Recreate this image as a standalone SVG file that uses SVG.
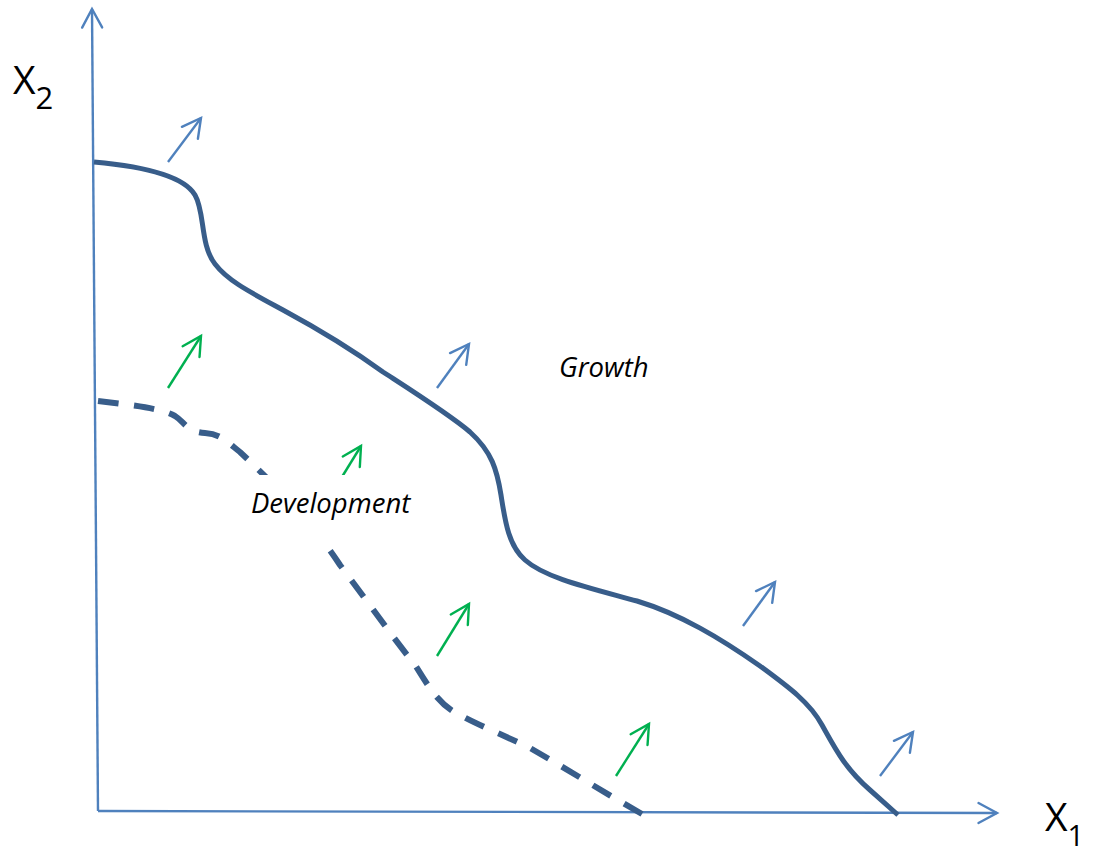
<svg xmlns="http://www.w3.org/2000/svg" width="1093" height="852" viewBox="0 0 1093 852">
  <style>
    .axis { fill: none; stroke: #4F81BD; stroke-width: 2.4; }
    .frontier { fill: none; stroke: #385D8A; stroke-width: 5; stroke-linecap: butt; }
    .frontier.dev { stroke-width: 6; stroke-dasharray: 21 16; }
    .shift-blue { fill: none; stroke: #4F81BD; stroke-width: 2.4; }
    .shift-green { fill: none; stroke: #00B050; stroke-width: 2.4; }
    .axis-label { font-family: "Open Sans", "Liberation Sans", sans-serif; fill: #000; }
    .region-label { font-family: "Open Sans", "Liberation Sans", sans-serif; font-style: italic; font-size: 27.5px; fill: #000; }
  </style>
  <defs>
    <marker id="head-blue" markerUnits="userSpaceOnUse" orient="auto" viewBox="-22 -13 26 26" markerWidth="26" markerHeight="26" refX="0" refY="0" overflow="visible">
      <path d="M-18.5,-10 L0,0 L-18.5,10" fill="none" stroke="#4F81BD" stroke-width="2.4" stroke-linecap="round" stroke-linejoin="miter"/>
    </marker>
    <marker id="head-green" markerUnits="userSpaceOnUse" orient="auto" viewBox="-22 -13 26 26" markerWidth="26" markerHeight="26" refX="0" refY="0" overflow="visible">
      <path d="M-18.5,-10 L0,0 L-18.5,10" fill="none" stroke="#00B050" stroke-width="2.4" stroke-linecap="round" stroke-linejoin="miter"/>
    </marker>
  </defs>

  <rect width="1093" height="852" fill="#FFFFFF"/>

  <g id="axes">
    <path class="axis" d="M98,811 L92,9" marker-end="url(#head-blue)"/>
    <path class="axis" d="M98,811 L997,813" marker-end="url(#head-blue)"/>
  </g>

  <g id="axis-labels">
    <text class="axis-label" x="13" y="94" font-size="39">X<tspan font-size="31" dy="15">2</tspan></text>
    <text class="axis-label" x="1045" y="831" font-size="39">X<tspan font-size="29" dy="15">1</tspan></text>
  </g>

  <!-- outer (growth) frontier -->
  <g id="growth-frontier">
    <path class="frontier" d="M94,162 C150,167 185,178 195,195 C205,212 200,245 215,264 C228,281 250,292 283,310 C320,330 350,348 383,372 C420,396 450,415 470,432 C492,452 497,470 501,495 C505,520 508,545 525,560 C545,578 590,588 637,601 C680,614 720,638 760,666 C790,688 810,703 822,725 C836,750 845,768 870,790 L898,815"/>
  </g>

  <!-- inner (development) frontier, dashed; pathLength fits a whole number of dash periods -->
  <g id="development-frontier">
    <path class="frontier dev" pathLength="724" d="M98,401 C140,406 162,409 175,416 C185,422 186,432 205,433 C220,434 225,440 240,452 C280,490 310,520 340,565 C370,605 395,640 415,665 C428,685 438,705 460,715 C480,726 510,738 530,748 C560,765 600,790 642,814"/>
  </g>

  <g id="connectors">
    <!-- outward shifts of the growth frontier -->
    <path class="shift-blue" d="M168,162 L201,118" marker-end="url(#head-blue)"/>
    <path class="shift-blue" d="M437,388 L469,344" marker-end="url(#head-blue)"/>
    <path class="shift-blue" d="M743,626 L775,582" marker-end="url(#head-blue)"/>
    <path class="shift-blue" d="M880,776 L913,732" marker-end="url(#head-blue)"/>
    <!-- outward shifts of the development frontier -->
    <path class="shift-green" d="M168,388 L201,336" marker-end="url(#head-green)"/>
    <path class="shift-green" d="M329,498 L361,446" marker-end="url(#head-green)"/>
    <path class="shift-green" d="M437,656 L469,604" marker-end="url(#head-green)"/>
    <path class="shift-green" d="M616,776 L649,724" marker-end="url(#head-green)"/>
  </g>

  <g id="development-label">
    <rect x="243" y="475" width="180" height="71" fill="#FFFFFF"/>
    <text class="region-label" x="251" y="513">Development</text>
  </g>

  <g id="growth-label">
    <text class="region-label" x="559" y="377">Growth</text>
  </g>
</svg>
